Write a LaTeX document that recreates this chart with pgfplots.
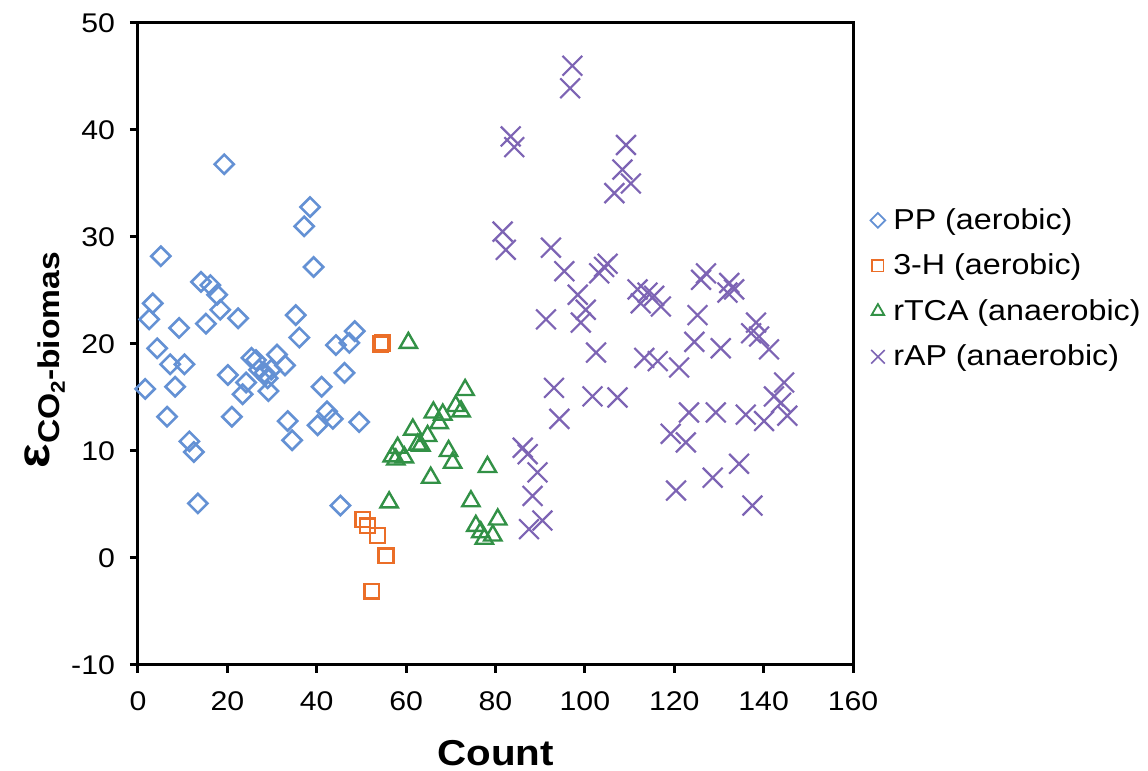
\documentclass[border=0pt]{standalone}
\usepackage{fontspec}
\setmainfont[FakeStretch=1.12]{Liberation Sans}
\usepackage{pgfplots}
\pgfplotsset{compat=1.18}
\definecolor{cPP}{RGB}{100,145,212}
\definecolor{cTH}{RGB}{235,110,40}
\definecolor{cTCA}{RGB}{50,145,70}
\definecolor{cAP}{RGB}{125,100,180}
\pgfplotsset{dot/.style={only marks, legend image code/.code={\draw[mark repeat=1,##1] plot coordinates {(0cm,0cm)};}}}
\begin{document}
\begin{tikzpicture}
\begin{axis}[
 scale only axis, width=357.5pt, height=321pt,
 xmin=0, xmax=160, ymin=-10, ymax=50,
 xtick={0,20,...,160}, ytick={-10,0,...,50},
 tick pos=left, tick align=outside, major tick length=4pt,
 axis line style={line width=1.5pt},
 tick style={black, line width=1.5pt},
 /pgf/number format/assume math mode=true,
 ticklabel style={font=\fontsize{13.5}{13.5}\selectfont},
 yticklabel style={xshift=-4pt},
 xticklabel style={yshift=-6pt},
 xlabel={Count},
 every axis x label/.style={at={(axis description cs:0.5,0)}, anchor=north, inner sep=0pt, yshift=-37.5pt, font=\fontsize{18}{18}\selectfont\bfseries},
 ylabel={{\fontsize{23}{23}\selectfont\bfseries ε}\raisebox{-5pt}{\fontsize{15}{15}\selectfont\bfseries CO\raisebox{-2.5pt}{\fontsize{10}{10}\selectfont 2}-biomas}},
 every axis y label/.style={at={(axis description cs:-0.1300,0.475)}, rotate=90, anchor=center, inner sep=0pt},
 legend style={draw=none, fill=none, at={(axis description cs:1.024,0.718)}, anchor=north west, font=\fontsize{14.4}{14.4}\selectfont, row sep=6.8pt, column sep=2pt, inner sep=0pt},
 legend cell align=left,
]
\addplot[dot, mark=square, mark size=3.4pt, mark options={rotate=45, draw=cPP, line width=1.3pt}, legend image post style={mark size=2.6pt, mark options={rotate=45,draw=cPP,line width=0.9pt}}] coordinates {
(19.3,36.8) (38.5,32.8) (37.2,31.0) (5.1,28.2) (39.3,27.2) (14.1,25.8) (16.2,25.5) (17.7,24.6)
(3.3,23.8) (2.5,22.3) (18.4,23.2) (9.2,21.5) (15.2,21.9) (22.4,22.4) (35.3,22.7) (36.1,20.6)
(4.3,19.6) (7.2,18.1) (10.4,18.1) (1.6,15.8) (8.3,16.0) (6.5,13.2) (11.5,10.9) (12.5,9.9)
(13.4,5.1) (20.1,17.1) (21.0,13.2) (23.4,15.3) (24.2,16.4) (25.4,18.7) (26.4,18.5) (27.1,17.6)
(28.3,17.3) (29.0,16.8) (29.8,17.6) (29.2,15.6) (31.1,19.0) (32.9,18.0) (33.5,12.8) (34.5,11.0)
(41.1,16.0) (42.3,13.7) (43.6,13.0) (40.2,12.4) (46.2,17.3) (44.3,19.9) (47.3,20.1) (48.5,21.2)
(49.5,12.7) (45.3,4.9)
};
\addlegendentry{PP (aerobic)}
\addplot[dot, mark=square, mark size=3.7pt, mark options={draw=cTH, line width=1.2pt}, legend image post style={mark size=2.8pt, mark options={draw=cTH,line width=0.9pt}}] coordinates {
(54.3,20.0) (54.7,20.1) (50.3,3.6) (51.4,3.0) (53.6,2.1) (55.5,0.2) (52.3,-3.1)
};
\addlegendentry{3-H (aerobic)}
\addplot[dot, mark=triangle, mark size=5pt, mark options={draw=cTCA, line width=1.2pt}, legend image post style={mark size=3.6pt, mark options={draw=cTCA,line width=0.9pt}}] coordinates {
(60.5,20.1) (73.2,15.7) (71.1,14.2) (72.3,13.7) (66.1,13.6) (68.2,13.4) (67.4,12.6) (61.5,12.0)
(64.8,11.4) (62.6,10.6) (63.3,10.5) (58.1,10.3) (56.9,9.5) (59.6,9.4) (57.7,9.2) (69.5,10.0)
(70.4,8.9) (78.2,8.5) (65.5,7.5) (56.2,5.2) (74.5,5.3) (80.5,3.6) (75.6,3.0) (76.7,2.4)
(79.4,2.1) (77.5,1.8)
};
\addlegendentry{rTCA (anaerobic)}
\addplot[dot, mark=x, mark size=7pt, mark options={draw=cAP, line width=1.1pt}, legend image post style={mark size=4.8pt, mark options={draw=cAP,line width=0.8pt}}] coordinates {
(97.2,46.0) (96.7,43.9) (83.4,39.4) (84.2,38.4) (109.2,38.6) (108.4,36.3) (110.3,35.0) (106.6,34.1)
(81.6,30.5) (82.3,28.8) (92.4,29.0) (95.4,26.8) (104.3,27.2) (105.1,27.5) (103.2,26.6) (98.4,24.6)
(100.2,23.2) (99.1,22.0) (91.3,22.3) (111.8,25.1) (114.0,24.8) (115.5,24.5) (112.5,23.8) (117.0,23.5)
(102.5,19.2) (113.3,18.7) (116.3,18.4) (93.1,15.9) (101.7,15.1) (107.3,15.0) (94.3,13.0) (86.1,10.3)
(87.2,9.7) (89.4,8.0) (88.3,5.8) (87.5,2.7) (90.5,3.5) (127.1,26.6) (126.0,26.0) (132.3,25.7)
(133.4,25.1) (131.9,24.8) (125.2,22.7) (138.3,22.0) (137.2,21.0) (139.0,20.7) (141.2,19.5) (124.5,20.2)
(130.4,19.6) (121.1,17.8) (144.6,16.4) (142.3,15.1) (143.9,14.5) (123.3,13.6) (129.3,13.6) (136.0,13.4)
(140.1,12.8) (145.3,13.3) (119.2,11.6) (122.6,10.8) (134.5,8.8) (128.6,7.5) (120.4,6.3) (137.5,4.9)
};
\addlegendentry{rAP (anaerobic)}
\end{axis}
\pgfresetboundingbox
\path ([xshift=-69pt,yshift=-53pt]current axis.south west) rectangle ([xshift=147.5pt,yshift=11.5pt]current axis.north east);
\end{tikzpicture}
\end{document}
